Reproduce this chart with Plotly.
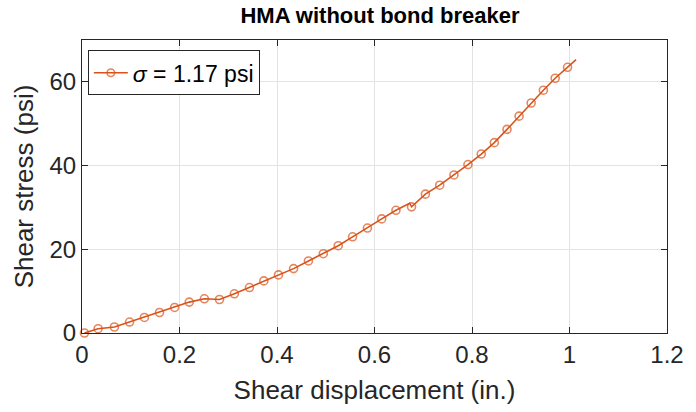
import plotly.graph_objects as go

# Data
displacement = [0.005, 0.033, 0.0665, 0.0976, 0.128, 0.159, 0.190, 0.220, 0.251, 0.282,
                0.3125, 0.3435, 0.373, 0.403, 0.434, 0.4645, 0.495, 0.5256, 0.555, 0.5855,
                0.6147, 0.644, 0.672, 0.676, 0.7044, 0.7337, 0.763, 0.7917, 0.819, 0.8458,
                0.8718, 0.8966, 0.9214, 0.9464, 0.9706, 0.996, 1.0135]
stress = [0.0, 1.02, 1.43, 2.62, 3.71, 4.90, 6.10, 7.38, 8.17, 8.0,
          9.36, 10.86, 12.45, 13.88, 15.38, 17.21, 18.95, 20.86, 22.98, 25.07,
          27.26, 29.31, 31.0, 30.14, 33.17, 35.31, 37.76, 40.24, 42.76, 45.48,
          48.64, 51.81, 54.95, 58.0, 60.86, 63.48, 65.3]
has_marker = [1] * 22 + [0] + [1] * 13 + [0]

x_ticks = [0, 0.2, 0.4, 0.6, 0.8, 1, 1.2]
y_ticks = [0, 20, 40, 60]

color = "#D95319"
txt = "#262626"
font_family = "Liberation Sans, Arial, sans-serif"

fig = go.Figure()
fig.add_trace(go.Scatter(
    x=displacement, y=stress, mode="lines+markers",
    name="<i>σ</i> = 1.17 psi",
    line=dict(color=color, width=1.6),
    marker=dict(symbol="circle-open", size=[8 if m else 0 for m in has_marker],
                color=color, line=dict(width=1.6, color=color)),
    cliponaxis=False,
))

axis_common = dict(
    showline=True, linecolor=txt, linewidth=1, mirror="ticks",
    ticks="inside", ticklen=6, tickcolor=txt, tickwidth=1,
    showgrid=True, gridcolor="#e3e3e3", gridwidth=1, zeroline=False,
    tickfont=dict(size=24, color=txt, family=font_family),
)

fig.update_layout(
    width=696, height=412,
    margin=dict(l=82, r=18, t=40, b=79),
    paper_bgcolor="white", plot_bgcolor="white",
    title=dict(text="<b>HMA without bond breaker</b>", x=(82 + 298) / 696, xanchor="center",
               y=1 - 15 / 412, yanchor="middle",
               font=dict(size=22, color="black", family=font_family)),
    xaxis=dict(range=[0, 1.2], tickvals=x_ticks, ticktext=[str(v) for v in x_ticks],
               title=dict(text="Shear displacement (in.)", standoff=14,
                          font=dict(size=26, color=txt, family=font_family)),
               **axis_common),
    yaxis=dict(range=[0, 70], tickvals=y_ticks,
               title=dict(text="Shear stress (psi)", standoff=8,
                          font=dict(size=26, color=txt, family=font_family)),
               **axis_common),
    showlegend=True,
    legend=dict(x=0.01, y=0.965, xanchor="left", yanchor="top",
                bgcolor="white", bordercolor=txt, borderwidth=1,
                font=dict(size=23, color="black", family=font_family),
                itemwidth=34, tracegroupgap=0),
)

fig.write_html("out.html")
